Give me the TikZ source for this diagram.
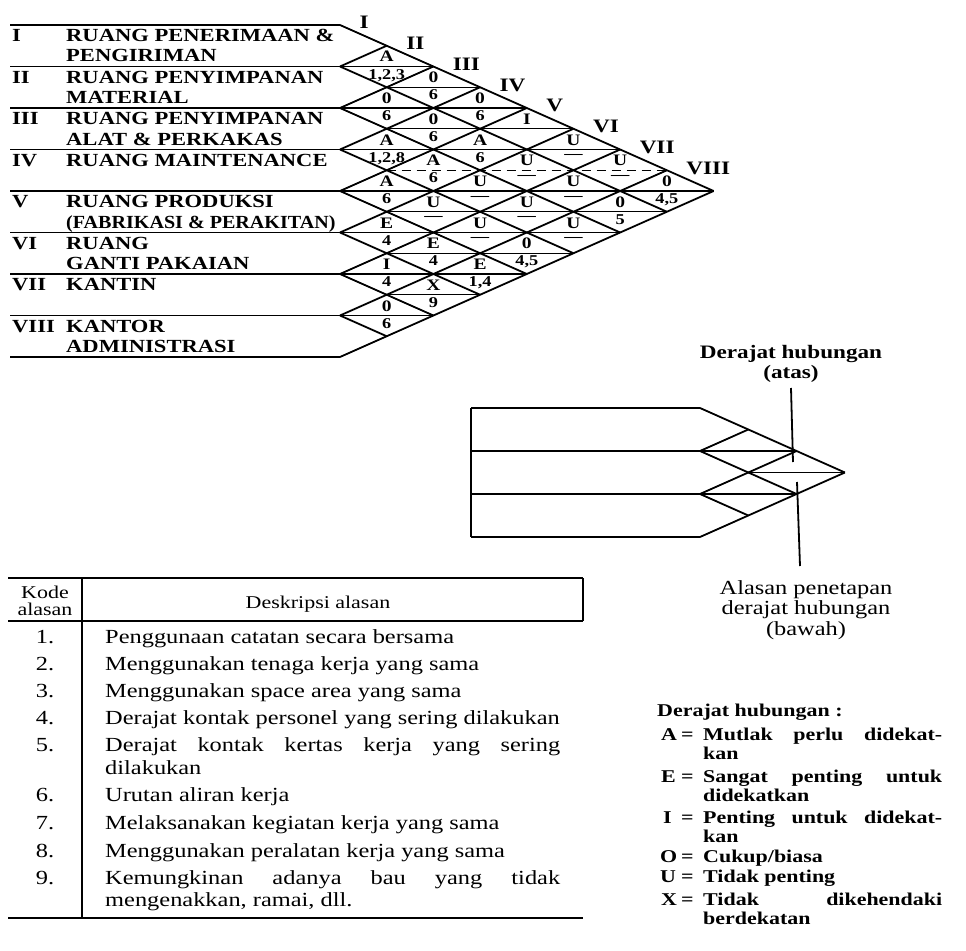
\documentclass[tikz,border=0pt]{standalone}
\usepackage{graphicx}
\usepackage{fontspec}
\setmainfont{Liberation Serif}[FakeStretch=1.22]
\newcommand\rdash{\raisebox{3.5pt}{\textemdash}}
\begin{document}
\begin{tikzpicture}[x=1pt,y=-1pt,
  thickln/.style={line width=1.8pt},
  thinln/.style={line width=1.1pt},
  room/.style={font=\fontsize{18.5}{20}\selectfont\bfseries, anchor=base west, inner sep=0pt},
  colnum/.style={font=\fontsize{19}{20}\selectfont\bfseries, anchor=base west, inner sep=0pt},
  lett/.style={font=\fontsize{16}{16}\selectfont\bfseries, anchor=base, inner sep=0pt},
  reas/.style={font=\fontsize{15}{15}\selectfont\bfseries, anchor=base, inner sep=0pt},
  tab/.style={font=\fontsize{20}{22}\selectfont, anchor=base west, inner sep=0pt},
  tabnum/.style={font=\fontsize{20}{22}\selectfont, anchor=base, inner sep=0pt},
  hdr/.style={font=\fontsize{18}{20}\selectfont, anchor=base, inner sep=0pt},
  leg/.style={font=\fontsize{18}{19}\selectfont\bfseries, anchor=base west, inner sep=0pt},
  notebf/.style={font=\fontsize{19}{21}\selectfont\bfseries, anchor=base, inner sep=0pt},
  note/.style={font=\fontsize{20}{22}\selectfont, anchor=base, inner sep=0pt},
]
\useasboundingbox (0,0) rectangle (966,950);
\fill[white] (0,0) rectangle (966,950);

% ===== main relationship chart =====
\def\XO{340}\def\YO{25}\def\HH{41.5}\def\WW{46.7}
% row boundaries
\foreach \m in {0,2,...,16}
  \draw[thickln] (10,{\YO+\HH/2*\m}) -- ({\XO+\WW*min(\m,16-\m)},{\YO+\HH/2*\m});
% mid lines inside diamonds
\foreach \m in {1,3,5,9,11,13,15}
  \draw[thinln] ({\XO+\WW},{\YO+\HH/2*\m}) -- ({\XO+\WW*min(\m,16-\m)},{\YO+\HH/2*\m});
\draw[thinln,dash pattern=on 9pt off 6pt] ({\XO+\WW},{\YO+\HH/2*7}) -- ({\XO+\WW*7},{\YO+\HH/2*7});
% diagonals
\foreach \k in {0,...,7}
  \draw[thickln] (\XO,{\YO+\HH*\k}) -- ({\XO+\WW*(8-\k)},{\YO+\HH/2*(8+\k)});
\foreach \k in {1,...,8}
  \draw[thickln] (\XO,{\YO+\HH*\k}) -- ({\XO+\WW*\k},{\YO+\HH/2*\k});

% room labels
\foreach \k/\num/\la/\lb in {
 1/I/{RUANG PENERIMAAN \&}/PENGIRIMAN,
 2/II/{RUANG PENYIMPANAN}/MATERIAL,
 3/III/{RUANG PENYIMPANAN}/{ALAT \& PERKAKAS},
 4/IV/{RUANG MAINTENANCE}/{},
 5/V/{RUANG PRODUKSI}/{\scalebox{0.89}[1]{(FABRIKASI \& PERAKITAN)}},
 6/VI/RUANG/{GANTI PAKAIAN},
 7/VII/KANTIN/{},
 8/VIII/KANTOR/ADMINISTRASI}
{
  \pgfmathsetmacro\tp{25+41.5*(\k-1)}
  \node[room] (rn\k) at (12,\tp+16.5) {\num};
  \node[room] (ra\k) at (66,\tp+16.5) {\la};
  \node[room] (rb\k) at (66,\tp+37) {\lb};
}
% column numerals
\foreach \k/\num in {1/I,2/II,3/III,4/IV,5/V,6/VI,7/VII,8/VIII}
  \node[colnum] (cn\k) at ({340+46.7*(\k-0.5)-4},{25+20.75*(\k-0.5)-6.5}) {\num};

% diamond contents
\foreach \i/\j/\l/\r in {
 1/2/A/{1,2,3}, 1/3/0/6, 1/4/0/6, 1/5/I/{}, 1/6/U/\rdash, 1/7/U/\rdash, 1/8/0/{4,5},
 2/3/0/6, 2/4/0/6, 2/5/A/6, 2/6/U/\rdash, 2/7/U/\rdash, 2/8/0/5,
 3/4/A/{1,2,8}, 3/5/A/6, 3/6/U/\rdash, 3/7/U/\rdash, 3/8/U/\rdash,
 4/5/A/6, 4/6/U/\rdash, 4/7/U/\rdash, 4/8/0/{4,5},
 5/6/E/4, 5/7/E/4, 5/8/E/{1,4},
 6/7/I/4, 6/8/X/9,
 7/8/0/6}
{
  \pgfmathsetmacro\cx{340+46.7*(\j-\i)}
  \pgfmathsetmacro\cy{25+41.5*(\i+\j-1)/2}
  \node[lett] (l\i\j) at (\cx,\cy-4.5) {\l};
  \node[reas] (r\i\j) at (\cx,\cy+12.5) {\r};
}

% ===== small explanatory chart =====
\def\XL{700}\def\YL{408}\def\HL{43}\def\WL{48.3}
\draw[thickln] (471,\YL) -- (471,{\YL+3*\HL});
\foreach \m in {0,2,4,6}
  \draw[thickln] (471,{\YL+\HL/2*\m}) -- ({\XL+\WL*min(\m,6-\m)},{\YL+\HL/2*\m});
\draw[thinln] ({\XL+\WL},{\YL+\HL/2*3}) -- ({\XL+\WL*3},{\YL+\HL/2*3});
\foreach \k in {0,1,2}
  \draw[thickln] (\XL,{\YL+\HL*\k}) -- ({\XL+\WL*(3-\k)},{\YL+\HL/2*(3+\k)});
\foreach \k in {1,2,3}
  \draw[thickln] (\XL,{\YL+\HL*\k}) -- ({\XL+\WL*\k},{\YL+\HL/2*\k});
\coordinate (pa1) at (791,388);
\coordinate (pa2) at (793,462);
\coordinate (pb1) at (797,482);
\coordinate (pb2) at (800,566);
\draw[thickln] (pa1) -- (pa2);
\draw[thickln] (pb1) -- (pb2);
\node[notebf] (up1) at (791,358) {Derajat hubungan};
\node[notebf] (up2) at (791,378) {(atas)};
\node[note] (dn1) at (806,594) {Alasan penetapan};
\node[note] (dn2) at (806,614) {derajat hubungan};
\node[note] (dn3) at (806,635) {(bawah)};

% ===== reason table =====
\draw[thickln] (8,578) -- (583,578);
\draw[thickln] (8,621) -- (583,621);
\draw[thickln] (8,918) -- (583,918);
\draw[thickln] (82,578) -- (82,918);
\draw[thickln] (583,578) -- (583,621);
\node[hdr] (h1) at (45,598) {Kode};
\node[hdr] (h2) at (45,615) {alasan};
\node[hdr] (h3) at (318,608) {Deskripsi alasan};
\foreach \n/\yy in {1/643,2/670,3/697,4/724,5/751,6/801,7/829,8/857,9/884}
  \node[tabnum] (tn\n) at (45,\yy) {\n.};
\node[tab] (t1) at (105,643) {Penggunaan catatan secara bersama};
\node[tab] (t2) at (105,670) {Menggunakan tenaga kerja yang sama};
\node[tab] (t3) at (105,697) {Menggunakan space area yang sama};
\node[tab] (t4) at (105,724) {Derajat kontak personel yang sering dilakukan};
\node[tab] (t5) at (105,751) {\makebox[455pt][s]{Derajat kontak kertas kerja yang sering}};
\node[tab] (t5b) at (105,774) {dilakukan};
\node[tab] (t6) at (105,801) {Urutan aliran kerja};
\node[tab] (t7) at (105,829) {Melaksanakan kegiatan kerja yang sama};
\node[tab] (t8) at (105,857) {Menggunakan peralatan kerja yang sama};
\node[tab] (t9) at (105,884) {\makebox[455pt][s]{Kemungkinan adanya bau yang tidak}};
\node[tab] (t9b) at (105,906) {mengenakkan, ramai, dll.};

% ===== legend =====
\node[leg] (lg) at (657,716) {Derajat hubungan :};
\node[leg] (lA) at (661,740) {A};
\node[leg] (eA) at (681,740) {=};
\node[leg] (tA) at (703,740) {\makebox[239pt][s]{Mutlak perlu didekat-}};
\node[leg] (tA2) at (703,759.5) {kan};
\node[leg] (lE) at (661,782) {E};
\node[leg] (eE) at (681,782) {=};
\node[leg] (tE) at (703,782) {\makebox[239pt][s]{Sangat penting untuk}};
\node[leg] (tE2) at (703,801.5) {didekatkan};
\node[leg] (lI) at (663,823) {I};
\node[leg] (eI) at (681,823) {=};
\node[leg] (tI) at (703,823) {\makebox[239pt][s]{Penting untuk didekat-}};
\node[leg] (tI2) at (703,842.5) {kan};
\node[leg] (lO) at (660,862) {O};
\node[leg] (eO) at (681,862) {=};
\node[leg] (tO) at (703,862) {Cukup/biasa};
\node[leg] (lU) at (660,882) {U};
\node[leg] (eU) at (681,882) {=};
\node[leg] (tU) at (703,882) {Tidak penting};
\node[leg] (lX) at (661,905) {X};
\node[leg] (eX) at (681,905) {=};
\node[leg] (tX) at (703,905) {\makebox[239pt][s]{Tidak dikehendaki}};
\node[leg] (tX2) at (703,924.5) {berdekatan};
\end{tikzpicture}
\end{document}
